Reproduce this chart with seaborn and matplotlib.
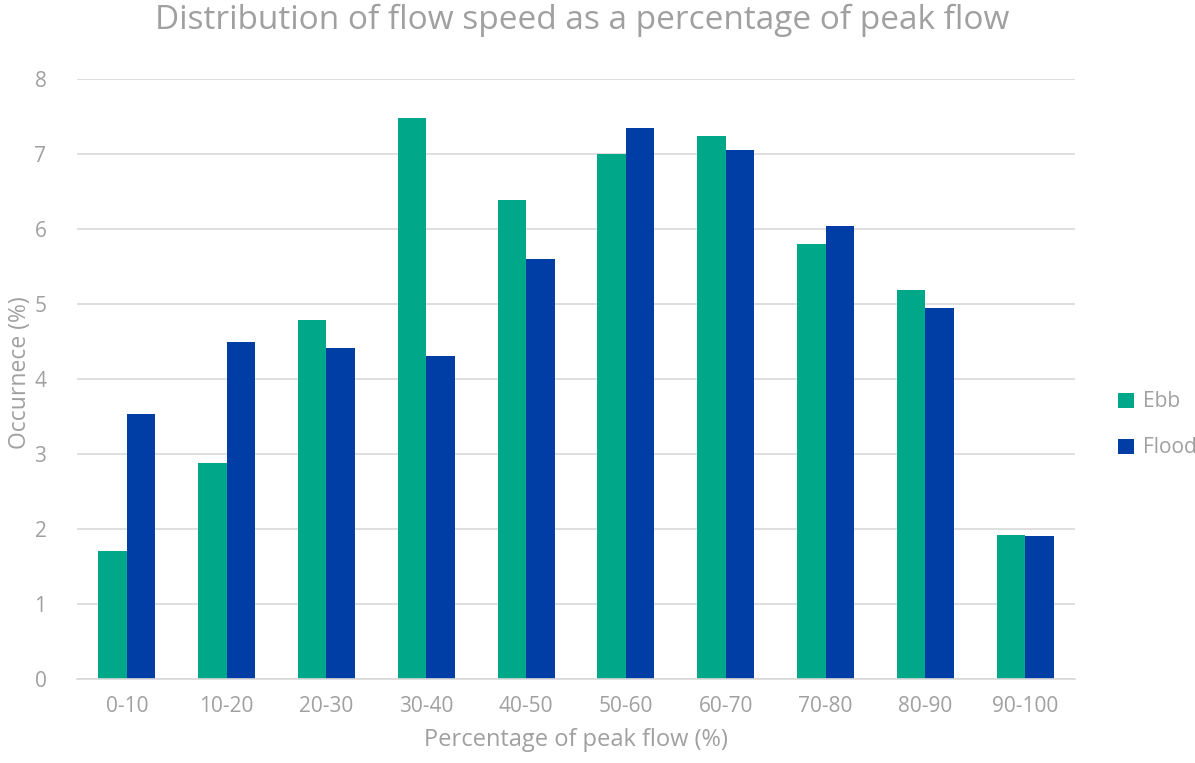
import matplotlib
matplotlib.use("Agg")
import matplotlib.pyplot as plt
import seaborn as sns
import pandas as pd
from matplotlib.patches import Patch

# Flow-speed bins and occurrence (%) for each tide direction
bins = ["0-10", "10-20", "20-30", "30-40", "40-50", "50-60", "60-70", "70-80", "80-90", "90-100"]
ebb = [1.71, 2.88, 4.79, 7.48, 6.39, 7.00, 7.24, 5.80, 5.19, 1.92]
flood = [3.54, 4.50, 4.41, 4.31, 5.60, 7.35, 7.05, 6.04, 4.95, 1.91]
series = ["Ebb", "Flood"]
colors = {"Ebb": "#00A88A", "Flood": "#003DA5"}

df = pd.DataFrame({
    "bin": bins * 2,
    "value": ebb + flood,
    "series": ["Ebb"] * len(bins) + ["Flood"] * len(bins),
})

sns.set_theme(style="white")
plt.rcParams["font.family"] = ["Open Sans", "DejaVu Sans"]
text_color = "#A0A0A0"
grid_color = "#D9D9D9"

fig = plt.figure(figsize=(11.95, 7.63), dpi=100)
ax = fig.add_axes([0.0644, 0.110, 0.8352, 0.7865])

sns.barplot(data=df, x="bin", y="value", hue="series", order=bins,
            hue_order=series, palette=colors, width=0.57, gap=0,
            saturation=1, linewidth=0, ax=ax, legend=False)

ax.set_ylim(0, 8)
ax.set_xlim(-0.5, len(bins) - 0.5)
ax.set_yticks(range(0, 9))
ax.yaxis.grid(True, color=grid_color, linewidth=1.2)
ax.set_axisbelow(True)
for side in ["top", "right", "left"]:
    ax.spines[side].set_visible(False)
ax.spines["bottom"].set_color(grid_color)
ax.spines["bottom"].set_linewidth(1.2)
ax.tick_params(axis="both", length=0, labelsize=15, colors=text_color)
ax.tick_params(axis="x", pad=12)
ax.tick_params(axis="y", pad=22)

ax.set_xlabel("Percentage of peak flow (%)", fontsize=17, color=text_color, labelpad=8)
ax.set_ylabel("Occurnece (%)", fontsize=16.5, color=text_color)
ax.yaxis.label.set_verticalalignment("center")
ax.yaxis.set_label_coords(-0.057, 0.51)
fig.suptitle("Distribution of flow speed as a percentage of peak flow",
             fontsize=24, color=text_color, x=0.487, y=0.995)

handles = [Patch(facecolor=colors[s], edgecolor="none") for s in series]
leg = fig.legend(handles, series, loc="center left", bbox_to_anchor=(0.920, 0.443),
                 frameon=False, fontsize=15, handlelength=0.75, handleheight=0.75,
                 handletextpad=0.45, labelspacing=1.2)
for t in leg.get_texts():
    t.set_color(text_color)

fig.savefig("out.png", dpi=100, facecolor="white")
